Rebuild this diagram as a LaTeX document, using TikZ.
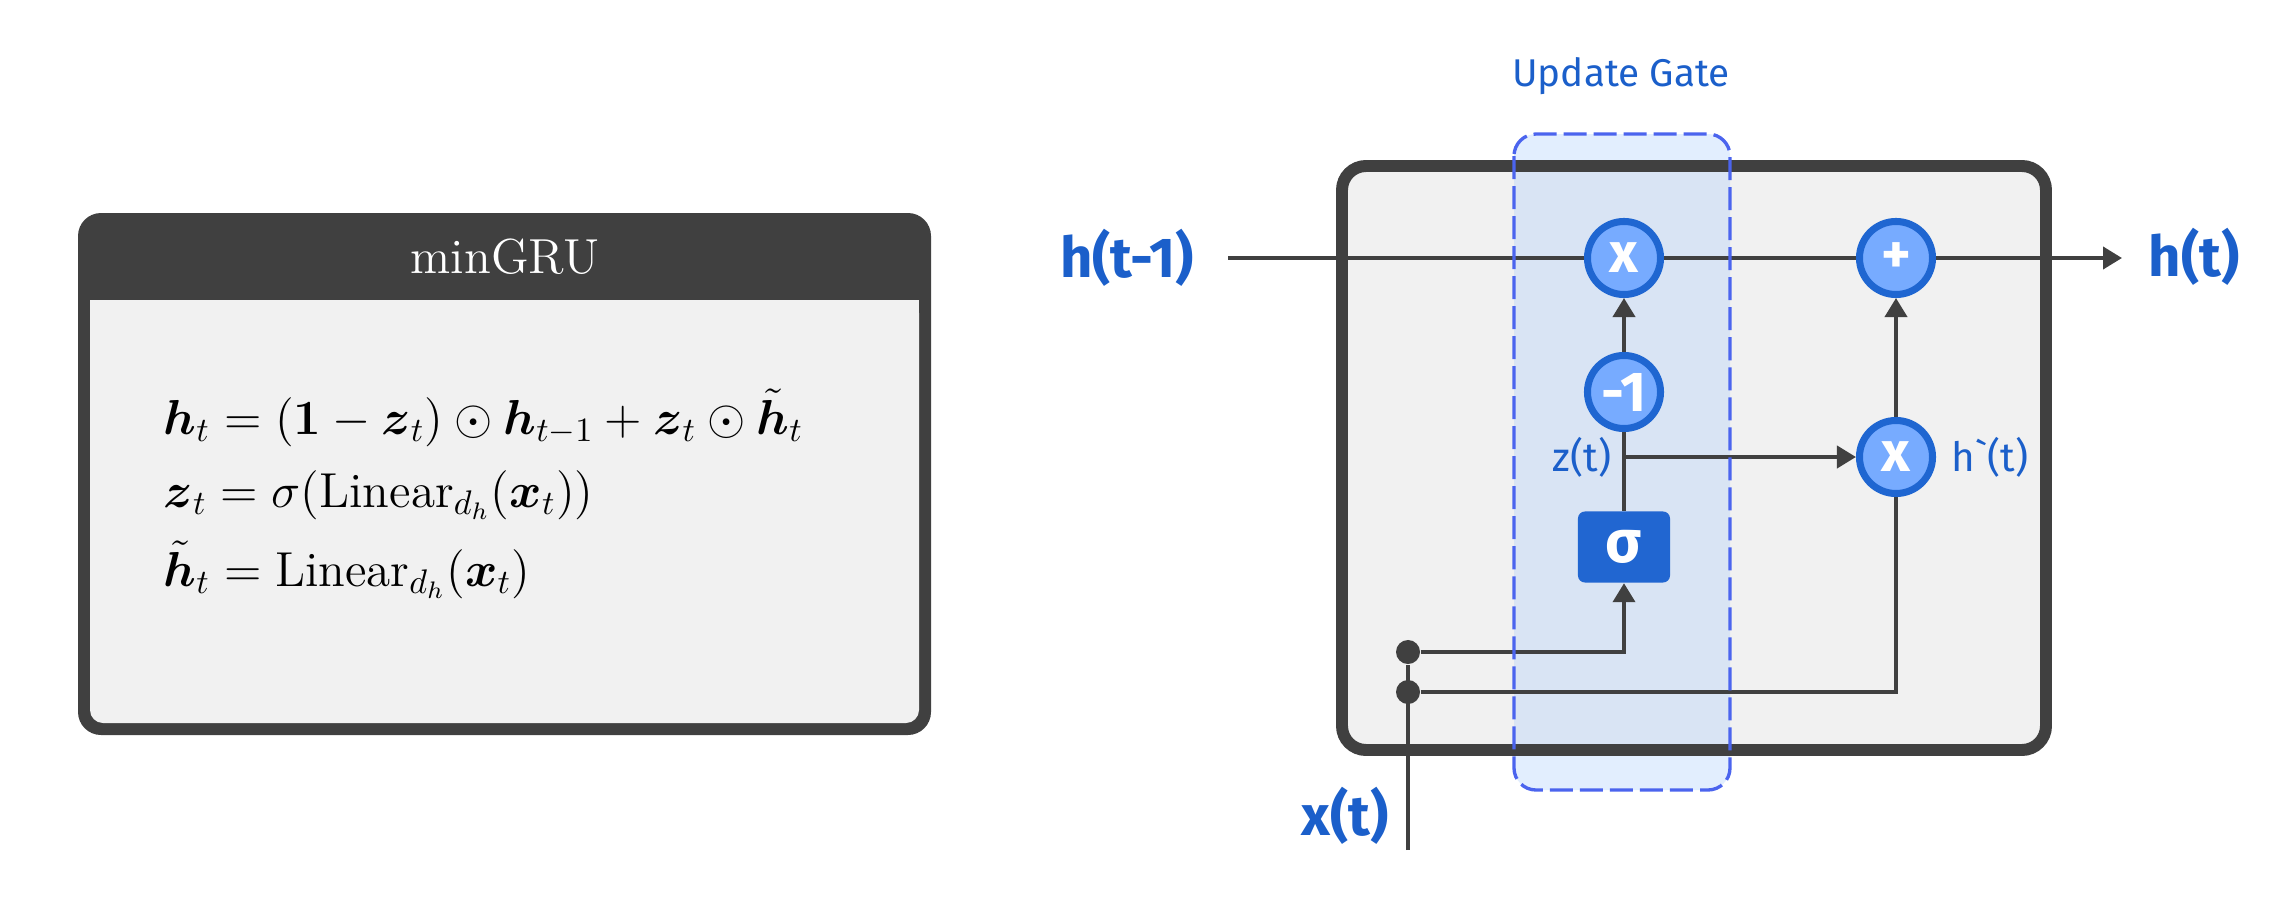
\documentclass[tikz,border=0pt]{standalone}
\usepackage{amsmath,amssymb,amsfonts}
\usepackage{fontspec}
\usepackage{xcolor}
\usepackage{tikz}
\usetikzlibrary{arrows.meta,positioning}

\newfontfamily\labelfont{Fira Sans}

\definecolor{darkgrey}{HTML}{404040}
\definecolor{panelgrey}{HTML}{F1F1F1}
\definecolor{textblue}{HTML}{1B5FCA}
\definecolor{opborder}{HTML}{1F66D1}
\definecolor{opfill}{HTML}{77ABFF}
\definecolor{sigfill}{HTML}{2166D1}
\definecolor{gateline}{HTML}{4B64EE}
\definecolor{gatefill}{RGB}{176,207,252}

\begin{document}
\begin{tikzpicture}[
      x=0.01cm, y=-0.01cm,
      line/.style={darkgrey, line width=1.14pt},
      op/.style={circle, draw=opborder, fill=opfill, line width=2pt, minimum size=0.73cm, inner sep=0pt, text=white, font=\labelfont\bfseries\fontsize{16}{16}\selectfont},
      sigbox/.style={rectangle, rounded corners=0.07cm, fill=sigfill, minimum width=0.92cm, minimum height=0.71cm, inner sep=0pt, text=white, font=\labelfont\bfseries\fontsize{17}{17}\selectfont},
      junction/.style={circle, fill=darkgrey, minimum size=0.24cm, inner sep=0pt},
      biglabel/.style={text=textblue, font=\labelfont\bfseries\fontsize{16}{19}\selectfont, inner sep=0pt},
      smalllabel/.style={text=textblue, font=\labelfont\fontsize{11.5}{14}\selectfont, inner sep=0pt},
      eq/.style={anchor=base west, inner sep=0pt, scale=0.97, transform shape, font=\fontsize{14.4}{18}\selectfont},
      >={Triangle[length=0.19cm, width=0.22cm]}
    ]
    \useasboundingbox (0,0) rectangle (2296,912);

    % formula panel
    \fill[darkgrey, rounded corners=0.23cm] (78,213) rectangle (931,735);
    \fill[panelgrey, rounded corners=0.13cm] (90,300) rectangle (919,723);
    \fill[panelgrey] (90,300) rectangle (919,340);
    \node[text=white, anchor=base, inner sep=0pt, font=\fontsize{14}{17}\selectfont] (title) at (505,273) {minGRU};
    \node[eq] (eqh) at (163,434) {$\boldsymbol{h}_t = (\boldsymbol{1}-\boldsymbol{z}_t)\odot\boldsymbol{h}_{t-1}+\boldsymbol{z}_t\odot\tilde{\boldsymbol{h}}_t$};
    \node[eq] (eqz) at (163,507) {$\boldsymbol{z}_t = \sigma(\mathrm{Linear}_{d_h}(\boldsymbol{x}_t))$};
    \node[eq] (eqc) at (163,586) {$\tilde{\boldsymbol{h}}_t = \mathrm{Linear}_{d_h}(\boldsymbol{x}_t)$};

    % cell
    \fill[panelgrey, rounded corners=0.24cm] (1342,166) rectangle (2046,750);
    \fill[gatefill, fill opacity=0.36, rounded corners=0.22cm] (1514,134) rectangle (1730,790);
    \draw[darkgrey, line width=3.4pt, rounded corners=0.24cm] (1342,166) rectangle (2046,750);

    \node[op] (mulh) at (1624,258) {x};
    \node[op] (neg) at (1624,392) {-1};
    \node[sigbox] (sig) at (1624,547) {σ};
    \node[op] (add) at (1896,258) {+};
    \node[op] (mulz) at (1896,457) {x};
    \node[junction] (j1) at (1408,652) {};
    \node[junction] (j2) at (1408,692) {};
    \coordinate (hin) at (1228,258);
    \coordinate (hend) at (2122,258);
    \coordinate (xin) at (1408,850);
    \coordinate (zsplit) at (neg |- mulz);

    \node[biglabel, anchor=base] (hprev) at (1127,277) {h(t-1)};
    \node[biglabel, anchor=base] (hnext) at (2194,276) {h(t)};
    \node[biglabel, anchor=base] (xt) at (1345,835) {x(t)};
    \node[smalllabel, left=0.12cm of zsplit] (zlbl) {z(t)};
    \node[smalllabel, right=0.15cm of mulz] (hcand) {h\char"60(t)};
    \node[smalllabel, anchor=base, font=\labelfont\fontsize{11}{14}\selectfont] (gatelbl) at (1621,87) {Update Gate};

    \draw[line] (hin) -- (mulh);
    \draw[line] (mulh) -- (add);
    \draw[line, ->] (add) -- (hend);
    \draw[line, ->] (neg) -- (mulh);
    \draw[line] (sig) -- (neg);
    \draw[line, ->] (zsplit) -- (mulz);
    \draw[line, ->] (j1) -| (sig);
    \draw[line] (j2) -| (mulz);
    \draw[line] (xin) -- (j1);
    \draw[line, ->] (mulz) -- (add);

    \draw[gateline, line width=0.95pt, dash pattern=on 0.23cm off 0.07cm, rounded corners=0.22cm] (1514,134) rectangle (1730,790);
  \end{tikzpicture}
\end{document}
